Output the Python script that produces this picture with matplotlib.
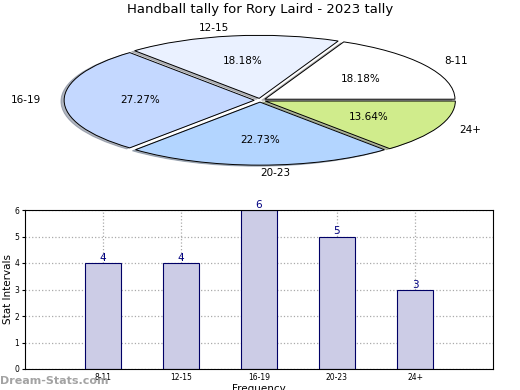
"""
handball tally pie + bar
"""
import numpy as np
import matplotlib
matplotlib.use('Agg')
import matplotlib.pyplot as plt

title = 'Handball tally for Rory Laird - 2023 tally'
intervals = ['8-11', '12-15', '16-19', '20-23', '24+']
counts = [4, 4, 6, 5, 3]
pie_colors = ['#ffffff', '#eaf1ff', '#c4d8ff', '#b3d5ff', '#d0ec8c']


def main():
    fig = plt.figure(figsize=(5.2, 3.9), dpi=100)
    fig.text(0.5, 1 - 10/390, title, ha='center', va='center', fontsize=9.5)

    # pie drawn squashed into an ellipse
    ax = fig.add_axes([0.01, 0.52, 0.98, 0.446])
    ax.pie(counts, labels=intervals, colors=pie_colors,
           explode=[0.03]*len(counts),
           shadow={'ox': -0.012, 'oy': -0.012, 'shade': 0.5},
           startangle=0, counterclock=True, autopct='%1.2f%%',
           pctdistance=0.6, labeldistance=1.12,
           wedgeprops=dict(edgecolor='black', linewidth=0.7),
           textprops=dict(fontsize=7.5))
    ax.set_aspect('auto')
    ax.set_xlim(-1.34, 1.34)
    ax.set_ylim(-1.38, 1.38)
    ax.axis('off')

    # bars
    bx = fig.add_axes([25/520, 1 - 369/390, 468/520, 159/390])
    x = np.arange(1, len(counts) + 1)
    bx.bar(x, counts, width=0.46, color='#ccccE6', edgecolor='#000066',
           linewidth=0.8, zorder=2)
    for xi, c in zip(x, counts):
        bx.text(xi, c, str(c), ha='center', va='bottom', color='#000080',
                fontsize=7.5)
    bx.set_xlim(0, 6)
    bx.set_ylim(0, 6)
    bx.set_xticks(x)
    bx.set_xticklabels(intervals, fontsize=5.5)
    bx.set_yticks(range(7))
    bx.tick_params(axis='y', labelsize=5.5, length=2, pad=2)
    bx.tick_params(axis='x', length=0, pad=3)
    bx.grid(True, linestyle=':', color='#aaaaaa', linewidth=0.9, zorder=0)
    bx.set_axisbelow(True)
    bx.set_ylabel('Stat Intervals', fontsize=7.5, labelpad=1)
    bx.set_xlabel('Frequency', fontsize=7.5, labelpad=1)

    fig.text(0.0, 1 - 381/390, 'Dream-Stats.com', color='#999999',
             fontsize=8, fontweight='bold', va='center', alpha=0.9)

    fig.savefig('out.png', dpi=100)
    plt.close('all')


if __name__ == '__main__':
    main()
